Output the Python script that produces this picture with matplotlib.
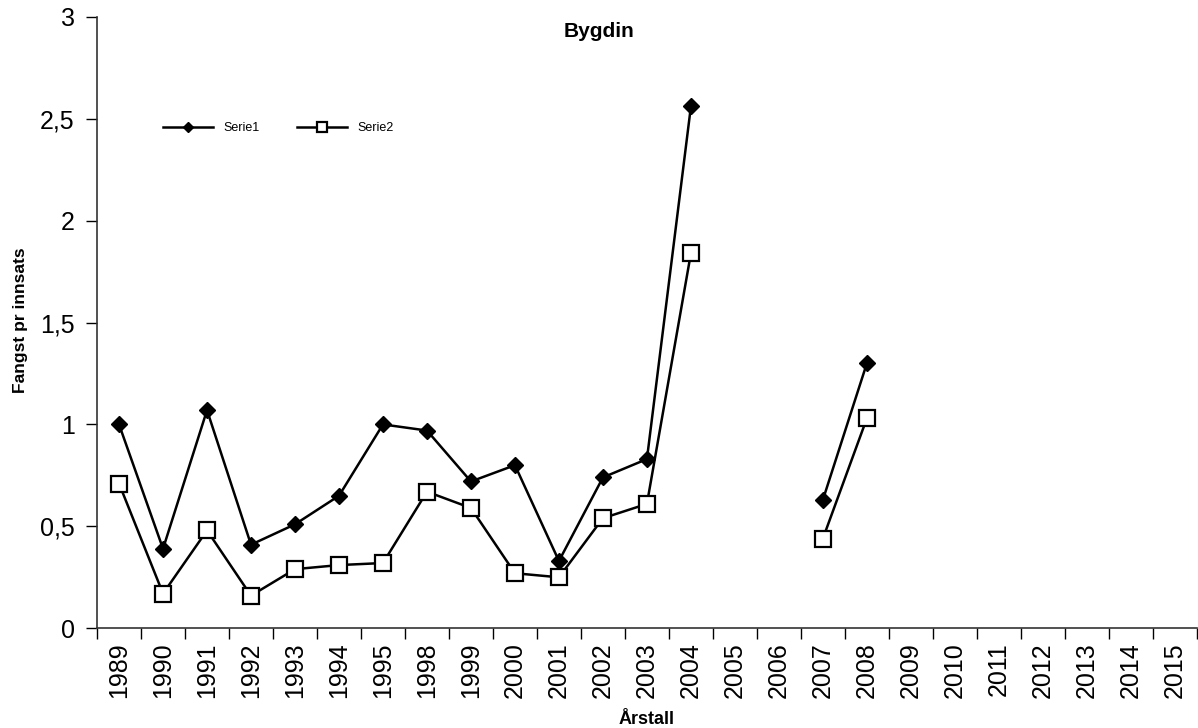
import numpy as np
import matplotlib
matplotlib.use("Agg")
import matplotlib.pyplot as plt

plt.rcParams['font.family'] = ['Liberation Sans', 'DejaVu Sans']

aar = ["1989", "1990", "1991", "1992", "1993", "1994", "1995", "1998", "1999",
       "2000", "2001", "2002", "2003", "2004", "2005", "2006", "2007", "2008",
       "2009", "2010", "2011", "2012", "2013", "2014", "2015"]
nan = np.nan
serie1 = [1.00, 0.39, 1.07, 0.41, 0.51, 0.65, 1.00, 0.97, 0.72,
          0.80, 0.33, 0.74, 0.83, 2.56, nan, nan, 0.63, 1.30,
          nan, nan, nan, nan, nan, nan, nan]
serie2 = [0.71, 0.17, 0.48, 0.16, 0.29, 0.31, 0.32, 0.67, 0.59,
          0.27, 0.25, 0.54, 0.61, 1.84, nan, nan, 0.44, 1.03,
          nan, nan, nan, nan, nan, nan, nan]

x = np.arange(len(aar))

fig = plt.figure(figsize=(11.98, 7.28), dpi=100)
ax = fig.add_axes([0.081, 0.137, 0.918, 0.840])

ax.plot(x, serie1, color='black', lw=1.8, marker='D', ms=8.5,
        mfc='black', mec='black', label='Serie1')
ax.plot(x, serie2, color='black', lw=1.8, marker='s', ms=11,
        mfc='white', mec='black', mew=1.6, label='Serie2')

ax.set_xlim(-0.5, len(aar) - 0.5)
ax.set_ylim(0, 3)
ax.set_xticks(x)
ax.set_xticklabels(aar, rotation=90, fontsize=18)
ax.set_xticks(np.arange(len(aar) + 1) - 0.5, minor=True)
ax.tick_params(axis='x', which='major', length=0, pad=10)
ax.tick_params(axis='x', which='minor', length=8, width=1, direction='out')

yt = [0, 0.5, 1, 1.5, 2, 2.5, 3]
ax.set_yticks(yt)
ax.set_yticklabels([str(v).replace('.', ',').replace(',0', '') for v in yt], fontsize=18)
ax.tick_params(axis='y', length=8, width=1, direction='out', pad=8)

for s in ['top', 'right']:
    ax.spines[s].set_visible(False)
for s in ['left', 'bottom']:
    ax.spines[s].set_color('#333333')
    ax.spines[s].set_linewidth(1.2)

fig.text(0.5, 0.957, 'Bygdin', ha='center', va='center', fontsize=15, fontweight='bold')
fig.text(0.017, 0.56, 'Fangst pr innsats', rotation=90, ha='center', va='center',
         fontsize=12.5, fontweight='bold')
fig.text(0.54, 0.012, 'Årstall', ha='center', va='center', fontsize=13, fontweight='bold')

leg = ax.legend(loc='center left', bbox_to_anchor=(0.05, 0.818), ncol=2, frameon=False,
                fontsize=9, handlelength=4, markerscale=0.6, columnspacing=3)

fig.savefig('out.png', dpi=100)
